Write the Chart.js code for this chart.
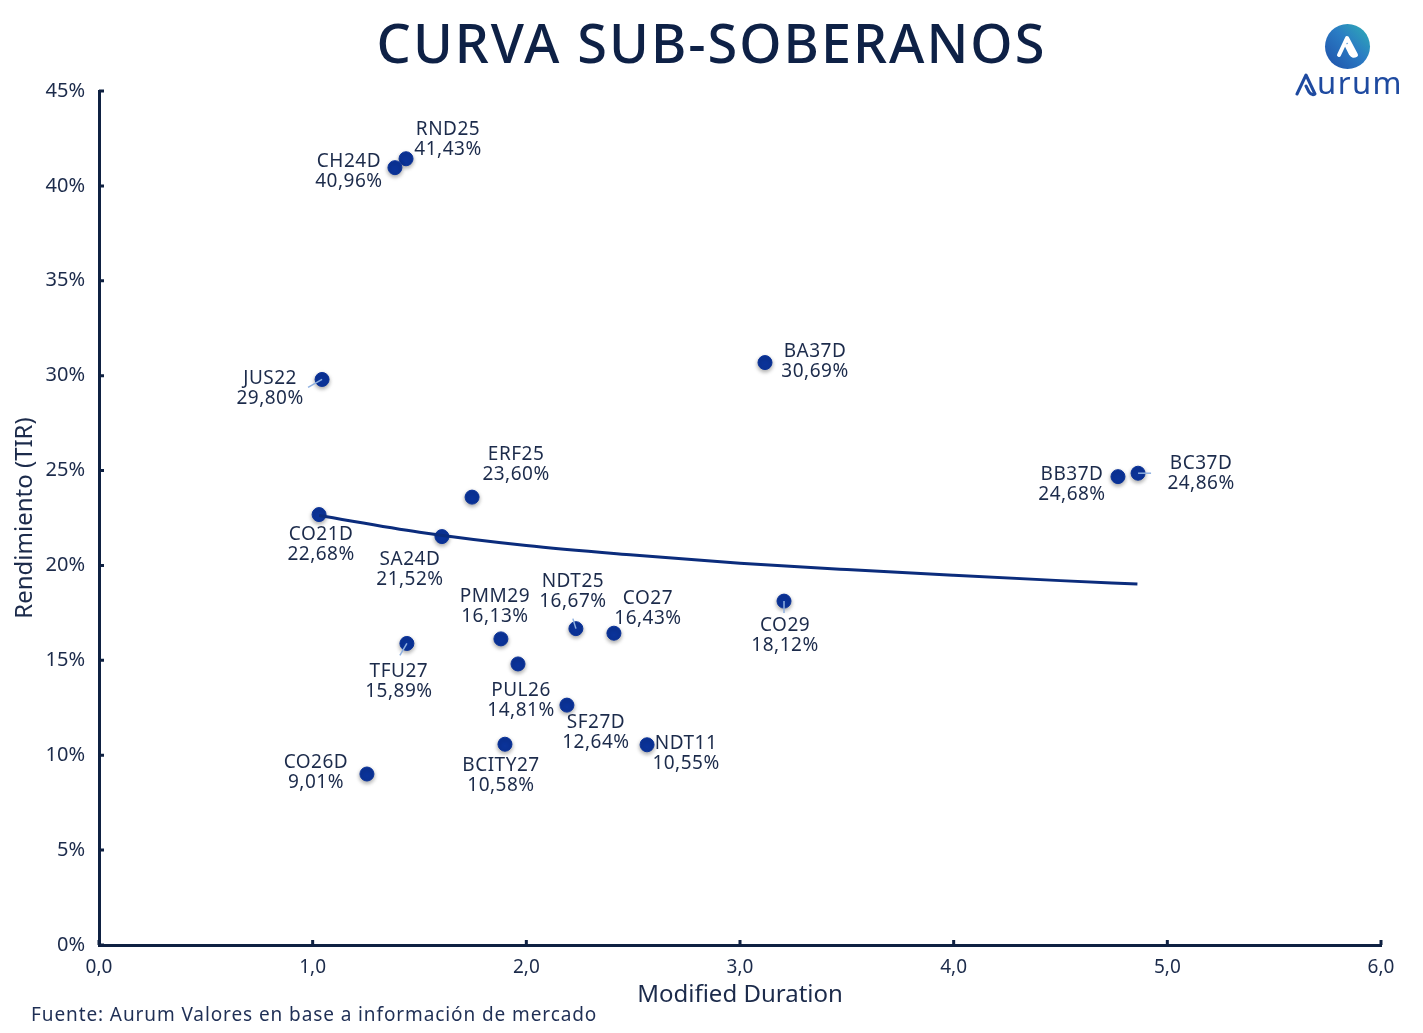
<!DOCTYPE html>
<html>
<head>
<meta charset="utf-8">
<script src="https://cdn.jsdelivr.net/npm/chart.js@4.4.1/dist/chart.umd.min.js"></script>
<style>
  html, body { margin: 0; padding: 0; background: #fff; }
  body { width: 1423px; height: 1033px; position: relative; overflow: hidden; font-family: "Noto Sans", sans-serif; color: #1c2b4b; }
  #wrap { position: absolute; left: 0; top: 0; width: 1423px; height: 1033px; }
  #title { position: absolute; left: 0; width: 1423px; top: 5px; text-align: center; font-size: 54px; font-weight: 500; letter-spacing: 2px; color: #0e2146; }
  #footer { position: absolute; left: 31px; top: 1001px; font-size: 19px; letter-spacing: 0.9px; color: #1f2f55; }
  #logo { position: absolute; left: 1290px; top: 22px; width: 120px; height: 76px; }
  #logo .circ { position: absolute; left: 35px; top: 2px; width: 45px; height: 45px; border-radius: 50%; background: linear-gradient(225deg, #2fb0b4 0%, #2a7cc4 45%, #1f4fa8 100%); }
  #logo .word { position: absolute; left: 2px; top: 45px; font-size: 31px; color: #1e4aa0; letter-spacing: 1.5px; line-height: 31px; }
  #logo .word span { padding-left: 25px; }
</style>
</head>
<body>
<div id="wrap"><canvas id="chart" width="1423" height="1033"></canvas></div>
<div id="title">CURVA SUB-SOBERANOS</div>
<div id="logo">
  <div class="circ">
    <svg width="45" height="45" viewBox="0 0 45 45"><path d="M14 31 L22 14 L31 31 Q28 33 26 30 L22 22" fill="none" stroke="#fff" stroke-width="4" stroke-linecap="round" stroke-linejoin="round"/></svg>
  </div>
  <div class="word">
    <svg width="24" height="26" viewBox="0 0 24 26" style="position:absolute;left:2px;top:4px"><path d="M3 23 L12 4 L21 23 Q18 25 15 21 L12 15" fill="none" stroke="#1e4aa0" stroke-width="3" stroke-linecap="round" stroke-linejoin="round"/></svg>
    <span>urum</span>
  </div>
</div>
<div id="footer">Fuente: Aurum Valores en base a información de mercado</div>
<script>
const names = ['RND25', 'CH24D', 'JUS22', 'BA37D', 'ERF25', 'BB37D', 'BC37D', 'CO21D', 'SA24D', 'PMM29',
  'NDT25', 'CO27', 'CO29', 'TFU27', 'PUL26', 'SF27D', 'BCITY27', 'NDT11', 'CO26D']
const duration = [1.437, 1.385, 1.044, 3.117, 1.746, 4.769, 4.863, 1.030, 1.605, 1.881,
  2.232, 2.410, 3.206, 1.441, 1.961, 2.190, 1.900, 2.565, 1.254]
const yieldPct = [41.43, 40.96, 29.80, 30.69, 23.60, 24.68, 24.86, 22.68, 21.52, 16.13,
  16.67, 16.43, 18.12, 15.89, 14.81, 12.64, 10.58, 10.55, 9.01]

// trend curve
const trendX = [1.03, 1.5, 2.0, 2.5, 3.0, 3.5, 4.0, 4.5, 4.86]
const trendY = [22.63, 21.75, 21.05, 20.55, 20.12, 19.78, 19.48, 19.2, 19.02]

const xTicks = [0, 1, 2, 3, 4, 5, 6]
const yTicks = [0, 5, 10, 15, 20, 25, 30, 35, 40, 45]

// label placement, pixels from the point
const labelOffset = [[42, -19], [-46, 4], [-52, 9], [50, -1], [44, -33], [-46, 8], [63, 0], [2, 30], [-32, 33], [-6, -32],
  [-3, -37], [34, -25], [1, 34], [-8, 38], [3, 37], [29, 27], [-4, 31], [39, 9], [-51, -1]]

// short light leader lines: [index, dx1, dy1, dx2, dy2]
const leaders = [[2, 0, 0, -14, 8], [6, 0, 0, 13, 0], [10, 0, 0, -3, -10], [13, 0, 0, -7, 12], [12, 0, 0, 0, 12]]

const NAVY = '#0f2142'
const TEXT = '#1c2b4b'

const pointLabels = {
  id: 'pointLabels',
  afterDatasetsDraw(chart) {
    const ctx = chart.ctx
    const meta = chart.getDatasetMeta(1)
    ctx.save()
    ctx.strokeStyle = '#8fb0e0'
    ctx.lineWidth = 1.5
    leaders.forEach(l => {
      const pt = meta.data[l[0]]
      ctx.beginPath()
      ctx.moveTo(pt.x + l[1], pt.y + l[2])
      ctx.lineTo(pt.x + l[3], pt.y + l[4])
      ctx.stroke()
    })
    ctx.font = '19px "Noto Sans"'
    ctx.letterSpacing = '0.5px'
    ctx.fillStyle = TEXT
    ctx.textAlign = 'center'
    ctx.textBaseline = 'middle'
    meta.data.forEach((pt, i) => {
      const cx = pt.x + labelOffset[i][0]
      const cy = pt.y + labelOffset[i][1]
      ctx.fillText(names[i], cx, cy - 10)
      ctx.fillText(yieldPct[i].toFixed(2).replace('.', ',') + '%', cx, cy + 10)
    })
    ctx.restore()
  }
}

const innerTicks = {
  id: 'innerTicks',
  afterDraw(chart) {
    const ctx = chart.ctx
    const xs = chart.scales.x, ys = chart.scales.y
    const area = chart.chartArea
    ctx.save()
    ctx.strokeStyle = NAVY
    ctx.lineWidth = 3
    ctx.beginPath()
    xTicks.forEach(v => {
      const px = xs.getPixelForValue(v)
      ctx.moveTo(px, area.bottom)
      ctx.lineTo(px, area.bottom - 5)
    })
    yTicks.forEach(v => {
      const py = ys.getPixelForValue(v)
      ctx.moveTo(area.left, py)
      ctx.lineTo(area.left + 5, py)
    })
    ctx.stroke()
    ctx.restore()
  }
}

const pointShadow = {
  id: 'pointShadow',
  beforeDatasetDraw(chart, args) {
    if (args.index !== 1) return
    const ctx = chart.ctx
    ctx.save()
    ctx.shadowColor = 'rgba(0,0,0,0.35)'
    ctx.shadowBlur = 4
    ctx.shadowOffsetY = 2
  },
  afterDatasetDraw(chart, args) {
    if (args.index !== 1) return
    chart.ctx.restore()
  }
}

function make_chart() {
  const canvas = document.getElementById('chart')
  return new Chart(canvas, {
    type: 'scatter',
    data: {
      datasets: [
        {
          type: 'line',
          data: trendX.map((x, i) => ({x: x, y: trendY[i]})),
          borderColor: '#0b2c7c',
          borderWidth: 3,
          pointRadius: 0,
          cubicInterpolationMode: 'monotone',
          fill: false
        },
        {
          data: duration.map((x, i) => ({x: x, y: yieldPct[i]})),
          backgroundColor: '#0b3399',
          borderColor: '#0b3399',
          pointRadius: 7,
          pointHoverRadius: 7
        }
      ]
    },
    options: {
      responsive: false,
      animation: false,
      layout: { padding: { left: 8, right: 42, top: 91, bottom: 23 } },
      plugins: {
        legend: { display: false },
        tooltip: { enabled: false }
      },
      scales: {
        x: {
          type: 'linear',
          min: 0, max: 6,
          afterFit: s => { s.height = 65 },
          afterBuildTicks: s => { s.ticks = xTicks.map(v => ({value: v})) },
          grid: { display: false, drawTicks: false },
          border: { color: NAVY, width: 3 },
          ticks: {
            padding: 11,
            color: TEXT,
            font: { family: 'Noto Sans', size: 19 },
            callback: v => v.toFixed(1).replace('.', ',')
          },
          title: {
            display: true,
            text: 'Modified Duration',
            color: TEXT,
            font: { family: 'Noto Sans', size: 24 },
            padding: { top: 2, bottom: 0 }
          }
        },
        y: {
          type: 'linear',
          min: 0, max: 45,
          afterFit: s => { s.width = 91 },
          afterBuildTicks: s => { s.ticks = yTicks.map(v => ({value: v})) },
          grid: { display: false, drawTicks: false },
          border: { color: NAVY, width: 3 },
          ticks: {
            padding: 14,
            color: TEXT,
            font: { family: 'Noto Sans', size: 20 },
            callback: v => v + '%'
          },
          title: {
            display: true,
            text: 'Rendimiento (TIR)',
            color: TEXT,
            font: { family: 'Noto Sans', size: 24 },
            padding: { top: 3, bottom: 0 }
          }
        }
      }
    },
    plugins: [pointShadow, innerTicks, pointLabels]
  })
}

let chart = make_chart()
</script>
</body>
</html>
